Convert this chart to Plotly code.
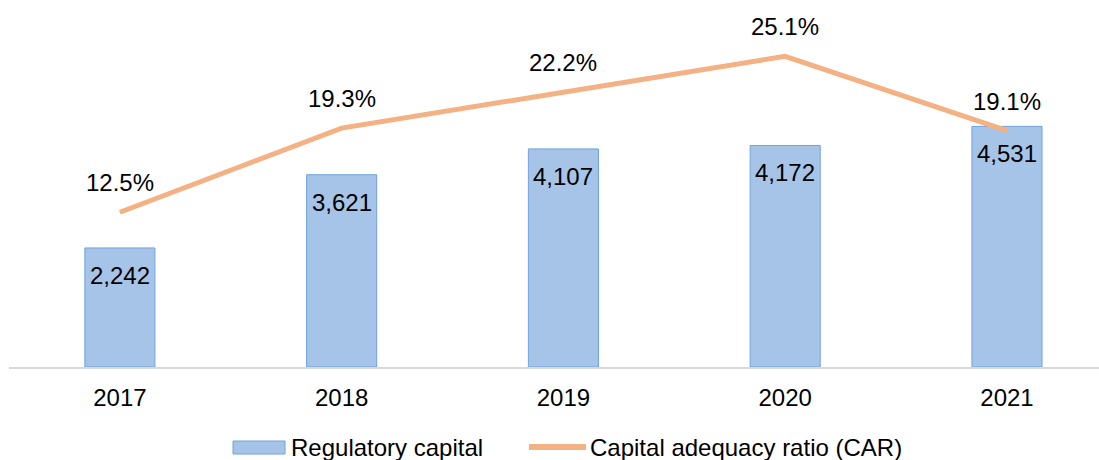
import plotly.graph_objects as go

years = ["2017", "2018", "2019", "2020", "2021"]
regulatory_capital = [2242, 3621, 4107, 4172, 4531]
car_pct = [12.5, 19.3, 22.2, 25.1, 19.1]
series_names = ["Regulatory capital", "Capital adequacy ratio (CAR)"]

FONT = "Liberation Sans, Arial, sans-serif"
BAR_FILL = "#a6c3e8"
BAR_EDGE = "#6fa3dc"
LINE_COLOR = "#f4b183"

W, H = 1099, 460
M_L, M_R, M_T, M_B = 9, 0, 10, 93
PLOT_W = W - M_L - M_R
PLOT_H = H - M_T - M_B


def px_x(px):
    return (px - M_L) / PLOT_W


def px_y(py):
    return (H - M_B - py) / PLOT_H


fig = go.Figure()

fig.add_trace(go.Bar(
    x=years, y=regulatory_capital, name=series_names[0],
    width=0.316,
    marker=dict(color=BAR_FILL, line=dict(color=BAR_EDGE, width=1)),
    yaxis="y", showlegend=False,
))

fig.add_trace(go.Scatter(
    x=years, y=car_pct, name=series_names[1],
    mode="lines", line=dict(color=LINE_COLOR, width=5),
    yaxis="y2", showlegend=False,
))

annotations = []
# value labels inside the top of each bar (x given as category index)
for i, v in enumerate(regulatory_capital):
    annotations.append(dict(
        x=i, y=v, xref="x", yref="y", text=f"{v:,}",
        showarrow=False, yanchor="top", yshift=-12,
        font=dict(family=FONT, size=24, color="#000000"),
    ))

# ratio labels above the line
for i, p in enumerate(car_pct):
    annotations.append(dict(
        x=i, y=p, xref="x", yref="y2", text=f"{p:.1f}%",
        showarrow=False, yanchor="bottom", yshift=14,
        font=dict(family=FONT, size=24, color="#000000"),
    ))

# legend drawn below the axis
legend_y = px_y(447)
annotations.append(dict(
    x=px_x(289), y=legend_y, xref="paper", yref="paper", text=series_names[0],
    showarrow=False, xanchor="left", yanchor="middle",
    font=dict(family=FONT, size=24, color="#000000"),
))
annotations.append(dict(
    x=px_x(588), y=legend_y, xref="paper", yref="paper", text=series_names[1],
    showarrow=False, xanchor="left", yanchor="middle",
    font=dict(family=FONT, size=24, color="#000000"),
))

shapes = [
    dict(type="rect", xref="paper", yref="paper",
         x0=px_x(233), x1=px_x(285), y0=px_y(454), y1=px_y(441),
         fillcolor=BAR_FILL, line=dict(color=BAR_EDGE, width=1)),
    dict(type="line", xref="paper", yref="paper",
         x0=px_x(529), x1=px_x(586), y0=legend_y, y1=legend_y,
         line=dict(color=LINE_COLOR, width=6)),
]

fig.update_layout(
    width=W, height=H,
    margin=dict(l=M_L, r=M_R, t=M_T, b=M_B, autoexpand=False),
    paper_bgcolor="white", plot_bgcolor="white",
    font=dict(family=FONT, size=20, color="#000000"),
    showlegend=False,
    annotations=annotations,
    shapes=shapes,
    xaxis=dict(
        type="category", range=[-0.5, 4.415],
        showline=True, linecolor="#d9d9d9", linewidth=2,
        showgrid=False, ticks="", zeroline=False,
        tickfont=dict(family=FONT, size=24, color="#000000"),
        ticklabelstandoff=8,
    ),
    yaxis=dict(range=[0, 6723], showticklabels=False, showline=False,
               showgrid=False, zeroline=False, ticks=""),
    yaxis2=dict(range=[0, 28.84], overlaying="y", side="right",
                showticklabels=False, showline=False,
                showgrid=False, zeroline=False, ticks=""),
)

fig.write_html("out.html")
